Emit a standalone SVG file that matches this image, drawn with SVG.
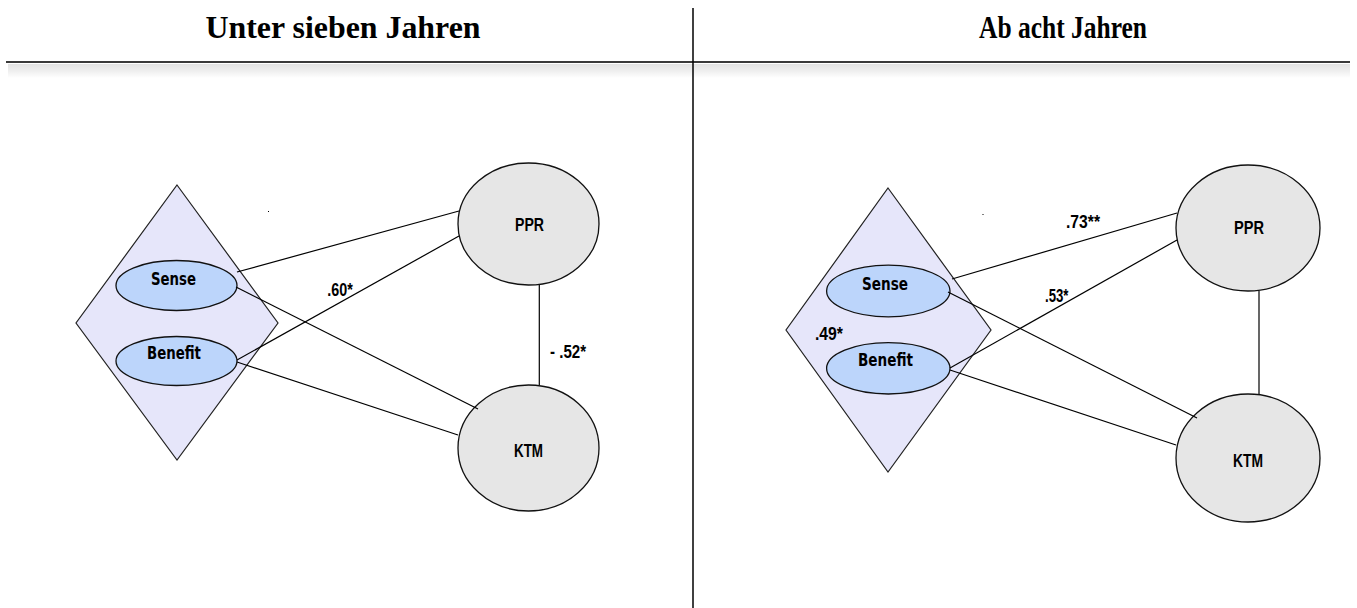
<svg xmlns="http://www.w3.org/2000/svg" width="1357" height="608" viewBox="0 0 1357 608">
<defs>
<linearGradient id="shadow" x1="0" y1="0" x2="0" y2="1">
<stop offset="0" stop-color="#e2e2e2"/>
<stop offset="0.5" stop-color="#efefef"/>
<stop offset="1" stop-color="#ffffff"/>
</linearGradient>
<style>
.hdr{font-family:"Liberation Serif","Times New Roman",serif;font-weight:bold;font-size:31px;fill:#000;text-anchor:middle}
.diam{fill:#e6e6fa;stroke:#222;stroke-width:1.2}
.item{fill:#bcd5fb;stroke:#111;stroke-width:1.3}
.circ{fill:#e6e6e6;stroke:#111;stroke-width:1.3}
.itxt{font-family:"DejaVu Sans",Verdana,sans-serif;font-weight:bold;font-size:18px;fill:#000}
.ctxt{font-family:"Liberation Sans",Arial,sans-serif;font-weight:bold;font-size:19px;fill:#000}
.lbl{font-family:"Liberation Sans",Arial,sans-serif;font-weight:bold;font-size:18px;fill:#000}
.conn line{stroke:#000;stroke-width:1.2}
</style>
</defs>
<rect width="1357" height="608" fill="#fff"/>
<g id="header">
<rect x="8" y="64" width="1342" height="14" fill="url(#shadow)"/>
<line x1="6" y1="62" x2="1350" y2="62" stroke="#3a3a3a" stroke-width="2.2"/>
<line x1="693" y1="8" x2="693" y2="608" stroke="#000" stroke-width="1.5"/>
<text class="hdr" x="343" y="38" textLength="275" lengthAdjust="spacingAndGlyphs">Unter sieben Jahren</text>
<text class="hdr" x="1063" y="38" textLength="168" lengthAdjust="spacingAndGlyphs">Ab acht Jahren</text>
</g>
<g id="left-diamond">
<polygon class="diam" points="177,185 278,323 177,460 76,323"/>
</g>
<g id="right-diamond">
<polygon class="diam" points="888,188 991,330 888,472 786,330"/>
</g>
<g id="left-sense">
<ellipse class="item" cx="176.5" cy="285.5" rx="60.5" ry="25"/>
<text class="itxt" x="151" y="284.5" textLength="45" lengthAdjust="spacingAndGlyphs">Sense</text>
</g>
<g id="left-benefit">
<ellipse class="item" cx="176.5" cy="361" rx="60.5" ry="24.5"/>
<text class="itxt" x="147" y="358.5" textLength="54" lengthAdjust="spacingAndGlyphs">Benefit</text>
</g>
<g id="right-sense">
<ellipse class="item" cx="888.3" cy="291" rx="61.7" ry="25.8"/>
<text class="itxt" x="862" y="290" textLength="46" lengthAdjust="spacingAndGlyphs">Sense</text>
</g>
<g id="right-benefit">
<ellipse class="item" cx="888.3" cy="368.3" rx="61.7" ry="25.7"/>
<text class="itxt" x="858" y="366" textLength="55" lengthAdjust="spacingAndGlyphs">Benefit</text>
</g>
<g id="left-ppr">
<ellipse class="circ" cx="528.5" cy="224" rx="70.5" ry="61"/>
<text class="ctxt" x="515" y="231" textLength="29" lengthAdjust="spacingAndGlyphs">PPR</text>
</g>
<g id="left-ktm">
<ellipse class="circ" cx="528.5" cy="448" rx="70.5" ry="63"/>
<text class="ctxt" x="514" y="456.7" textLength="29" lengthAdjust="spacingAndGlyphs">KTM</text>
</g>
<g id="right-ppr">
<ellipse class="circ" cx="1248" cy="228" rx="72" ry="63"/>
<text class="ctxt" x="1234" y="234" textLength="30" lengthAdjust="spacingAndGlyphs">PPR</text>
</g>
<g id="right-ktm">
<ellipse class="circ" cx="1248" cy="458" rx="72" ry="64"/>
<text class="ctxt" x="1233" y="466.7" textLength="30" lengthAdjust="spacingAndGlyphs">KTM</text>
</g>
<g id="connectors" class="conn">
<line x1="237" y1="272" x2="459" y2="211"/>
<line x1="236" y1="287" x2="478" y2="409"/>
<line x1="237" y1="360" x2="459" y2="236"/>
<line x1="237" y1="362" x2="458" y2="435"/>
<line x1="539.3" y1="285" x2="539.3" y2="385"/>
<line x1="952" y1="279" x2="1177" y2="213"/>
<line x1="948" y1="292" x2="1197" y2="418"/>
<line x1="950" y1="368" x2="1177" y2="240"/>
<line x1="950" y1="370" x2="1176" y2="445"/>
<line x1="1259" y1="291" x2="1259" y2="394"/>
</g>
<g id="labels">
<text class="lbl" x="327.3" y="296" textLength="25.5" lengthAdjust="spacingAndGlyphs">.60*</text>
<text class="lbl" x="550" y="358.3" textLength="36" lengthAdjust="spacingAndGlyphs">- .52*</text>
<text class="lbl" x="1066" y="228.3" textLength="34" lengthAdjust="spacingAndGlyphs">.73**</text>
<text class="lbl" x="1045" y="301.7" textLength="23.5" lengthAdjust="spacingAndGlyphs">.53*</text>
<text class="lbl" x="815" y="340" textLength="28" lengthAdjust="spacingAndGlyphs">.49*</text>
</g>
<g id="marks" fill="#000">
<rect x="268" y="211" width="1" height="1"/>
<rect x="982.5" y="214" width="1" height="1"/>
</g>
</svg>
